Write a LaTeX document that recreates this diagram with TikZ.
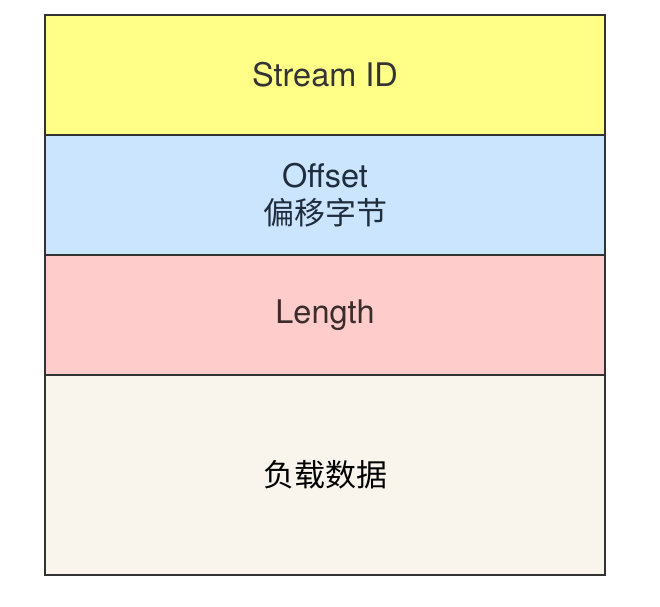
\documentclass[tikz,border=0pt]{standalone}
\usepackage{fontspec}
\setmainfont{TeX Gyre Heros}
\newfontfamily\cjk{Noto Sans CJK SC}
\usetikzlibrary{positioning}

\definecolor{fieldline}{HTML}{333333}
\definecolor{idfill}{HTML}{FFFF88}
\definecolor{offfill}{HTML}{CCE5FF}
\definecolor{lenfill}{HTML}{FFCCCC}
\definecolor{datafill}{HTML}{F9F5EC}

\tikzset{
  field/.style={draw=fieldline, line width=1.6pt, rectangle, outer sep=0pt,
    minimum width=560pt, minimum height=120pt, align=center,
    font=\fontsize{32.5}{37}\selectfont},
}

\begin{document}
\begin{tikzpicture}[x=1pt, y=1pt]
\useasboundingbox (0, 0) rectangle (660, 606);

\node[field, fill=idfill, text=fieldline] (sid) at (325, 531) {Stream ID};
\node[field, fill=offfill, text={rgb,255:red,31;green,45;blue,61}, below=0pt of sid] (offset) {Offset\\{\cjk\fontsize{31}{37}\selectfont 偏移字节}};
\node[field, fill=lenfill, text={rgb,255:red,59;green,43;blue,43}, below=0pt of offset] (len) {\raisebox{-3pt}{Length}};
\node[field, fill=datafill, text=black, minimum height=200pt, below=0pt of len] (data) {\cjk\fontsize{31}{37}\selectfont 负载数据};

\end{tikzpicture}
\end{document}
